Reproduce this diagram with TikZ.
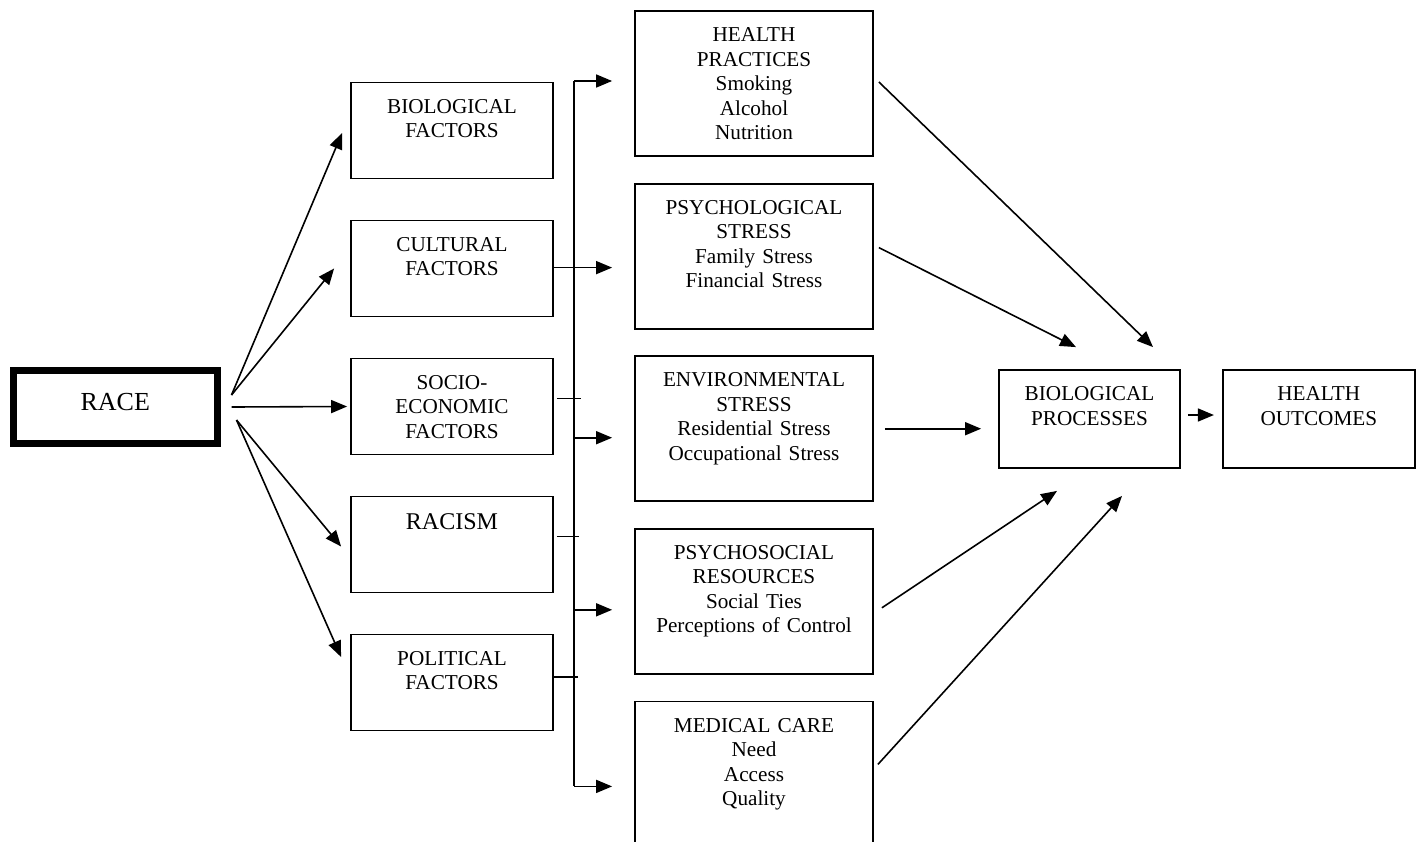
\documentclass[tikz,border=0pt]{standalone}
\usepackage{fontspec}
\setmainfont{Liberation Serif}
\usetikzlibrary{arrows.meta, calc, positioning}

\begin{document}
\begin{tikzpicture}[x=0.5pt, y=-0.5pt, >={Triangle[length=8pt,width=6.5pt]}, line width=0.8pt,
    box/.style={draw, line width=0.9pt, align=center, inner sep=0pt, text height=15.3pt,
                font=\fontsize{10.6pt}{12.25pt}\selectfont},
    factor/.style={box, text width=101pt, text depth=32.7pt},
    pathway/.style={box, text width=119pt, text depth=57.2pt},
    outcome/.style={box, text depth=33.7pt}]
  \useasboundingbox (0,0) rectangle (1423,841);

  % race
  \node[draw, line width=3.5pt, align=center, inner sep=0pt, text width=101.75pt,
        text height=19.75pt, text depth=16.75pt, font=\fontsize{13pt}{15pt}\selectfont]
        (race) at (115.25,407) {RACE};

  % factors
  \node[factor] (bio) at (452,130.5) {BIOLOGICAL\\FACTORS};
  \node[factor, below=20.1pt of bio] (cult) {CULTURAL\\FACTORS};
  \node[factor, below=20.1pt of cult] (socio) {SOCIO-\\ECONOMIC\\FACTORS};
  \node[factor, below=20.1pt of socio, text height=16.5pt, text depth=31.5pt,
        font=\fontsize{12pt}{14pt}\selectfont] (racism) {RACISM};
  \node[factor, below=20.1pt of racism] (pol) {POLITICAL\\FACTORS};

  % pathways
  \node[pathway] (hp) at (754,83.5) {HEALTH\\PRACTICES\\Smoking\\Alcohol\\Nutrition};
  \node[pathway, below=12.9pt of hp] (ps) {PSYCHOLOGICAL\\STRESS\\Family Stress\\Financial Stress};
  \node[pathway, below=12.9pt of ps] (env) {ENVIRONMENTAL\\STRESS\\Residential Stress\\Occupational Stress};
  \node[pathway, below=12.9pt of env] (psr) {PSYCHOSOCIAL\\RESOURCES\\Social Ties\\Perceptions of Control};
  \node[pathway, below=12.9pt of psr] (mc) {MEDICAL CARE\\Need\\Access\\Quality};

  % outcomes
  \node[outcome, text width=90.5pt] (bp) at (1089.5,419) {BIOLOGICAL\\PROCESSES};
  \node[outcome, text width=96pt, right=20.5pt of bp] (ho) {HEALTH\\OUTCOMES};

  % race to factors
  \coordinate (rU) at ($(race.east)+(11,-12)$);
  \coordinate (rM) at ($(race.east)+(11,0)$);
  \coordinate (rD) at ($(race.east)+(16,13)$);
  \draw[->] (rU) -- ($(bio.west)+(-8,2.5)$);
  \draw[->] (rU) -- ($(cult.west)+(-16,0)$);
  \draw[->] (rM) -- ($(socio.west)+(-3,0)$);
  \draw[->] (rD) -- ($(racism.west)+(-9,2)$);
  \draw[->] (rD) -- ($(pol.west)+(-9,-25.5)$);

  % bus
  \coordinate (bus) at (574,0);
  \foreach \n/\dy in {hp/-2.5, ps/11.5, env/9, psr/8.5, mc/12.5}
    \coordinate (in-\n) at ($(\n.west)+(-22,\dy)$);
  \draw (bus |- in-hp) -- (bus |- in-mc);
  \foreach \n in {hp,ps,env,psr,mc}
    \draw[->] (bus |- in-\n) -- (in-\n);
  \draw (cult.east |- in-ps) -- (bus |- in-ps);
  \draw ($(socio.east)+(3,-8)$) -- ++(24,0);
  \draw ($(racism.east)+(3,-8)$) -- ++(22,0);
  \draw ($(pol.east)+(0,-5.5)$) -- ++(24,0);

  % pathways to outcomes
  \draw[->] ($(hp.east)+(5,-1.5)$) -- ($(bp.north)+(63.5,-22)$);
  \draw[->] ($(ps.east)+(5,-8.5)$) -- ($(bp.north)+(-13.5,-22)$);
  \draw[->, shorten <=5.5pt, shorten >=8.5pt] (env.east) -- (bp.west |- env.east);
  \draw[->] ($(psr.east)+(8,6.5)$) -- ($(bp.south)+(-32.5,22)$);
  \draw[->] ($(mc.east)+(4,-9.5)$) -- ($(bp.south)+(32.5,27)$);
  \draw[->, shorten <=3.5pt, shorten >=4pt] ($(bp.east)+(0,-4)$) -- ($(ho.west)+(0,-4)$);
\end{tikzpicture}
\end{document}
